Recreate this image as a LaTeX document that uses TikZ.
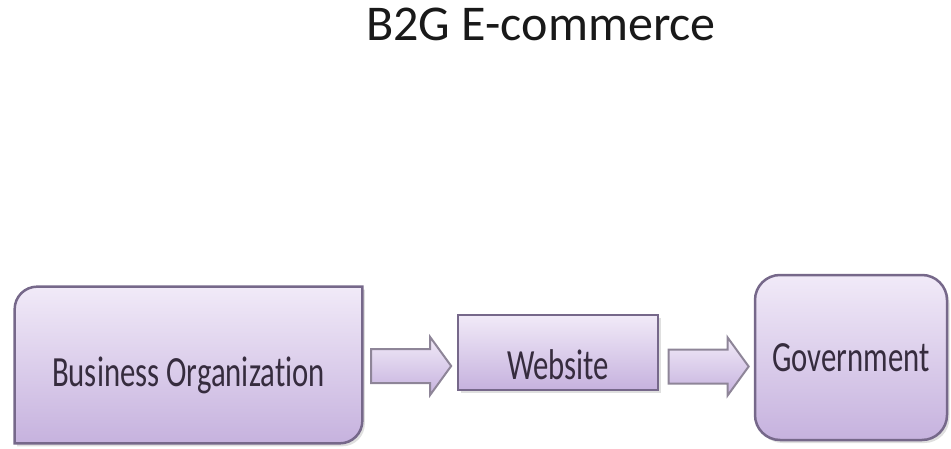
\documentclass[tikz,border=0pt]{standalone}
\usepackage{fontspec}
\setmainfont{Carlito}[Ligatures={NoCommon}]
\usepackage{graphicx}
\usepackage{tikz}
\usetikzlibrary{calc,shapes.arrows,shadows,backgrounds}

\definecolor{lavtop}{HTML}{F1EAF8}
\definecolor{lavbot}{HTML}{C6B2DE}
\definecolor{lavline}{HTML}{76688A}
\definecolor{arrline}{HTML}{8E8598}
\definecolor{boxtext}{HTML}{362C3E}

\tikzset{
  box/.style={top color=lavtop, bottom color=lavbot, draw=lavline, line width=0.5mm,
    drop shadow={opacity=0.25, shadow xshift=0.05, shadow yshift=-0.06}},
  boxtxt/.style={text=boxtext, font=\fontsize{17.5}{20}\selectfont},
  flowarrow/.style={single arrow, single arrow tip angle=108,
    single arrow head extend=0.24cm, minimum height=1.6cm, inner sep=0.32cm,
    top color=lavtop, bottom color=lavbot, draw=arrline, line width=0.4mm}
}

\newcommand{\tall}[2][0cm]{\raisebox{#1}[\height][\depth]{\scalebox{1}[1.4]{#2}}}

\begin{document}
\begin{tikzpicture}
\useasboundingbox (0,0) rectangle (19.02,-8.98);

% title
\node[anchor=base, font=\fontsize{28.5}{34}\selectfont, text=black!90] (title)
  at (10.82,-0.82) {B2G E-commerce};

% boxes
\node[boxtxt, minimum width=6.94cm, minimum height=3.12cm] (bo)
  at (3.77,-7.30) {\tall[-0.2cm]{Business Organization}};
\begin{scope}[on background layer]
\draw[box]
  (bo.south west) -- ($(bo.north west)+(0,-0.45)$)
  arc[start angle=180, end angle=90, radius=0.45] -- (bo.north east)
  -- ($(bo.south east)+(0,0.45)$)
  arc[start angle=0, end angle=-90, radius=0.45] -- cycle;
\end{scope}

\node[box, boxtxt, minimum width=4.0cm, minimum height=1.5cm] (web)
  at (11.16,-7.05) {\tall[-0.24cm]{Website}};
\node[box, boxtxt, rounded corners=0.5cm, minimum width=3.84cm, minimum height=3.3cm] (gov)
  at (17.02,-7.15) {\tall{Government}};

% arrows
\node[flowarrow] (arr1) at (8.1,-7.32) {};
\node[flowarrow] (arr2) at (14.05,-7.33) {};
\end{tikzpicture}
\end{document}
